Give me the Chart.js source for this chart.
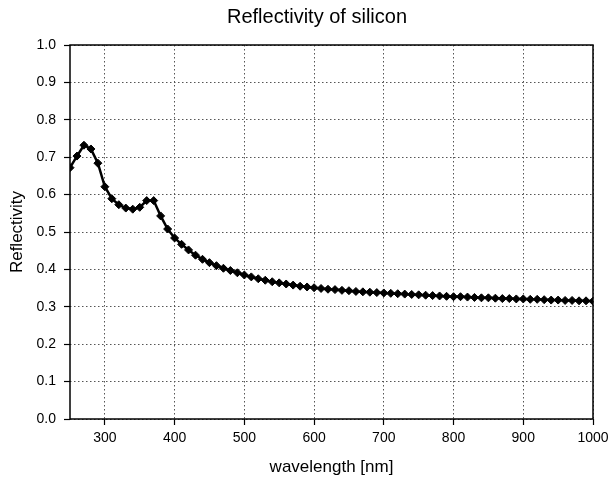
<!DOCTYPE html>
<html>
<head>
<meta charset="utf-8">
<script src="https://cdn.jsdelivr.net/npm/chart.js@4/dist/chart.umd.min.js"></script>
<style>
  html, body { margin: 0; padding: 0; background: #fff; }
  #wrap { width: 610px; height: 483px; }
</style>
</head>
<body>
<div id="wrap"><canvas id="c"></canvas></div>
<script>
// Wavelength samples (nm), one every 10 nm
const wavelengths = [
  250, 260, 270, 280, 290, 300, 310, 320, 330, 340,
  350, 360, 370, 380, 390, 400, 410, 420, 430, 440,
  450, 460, 470, 480, 490, 500, 510, 520, 530, 540,
  550, 560, 570, 580, 590, 600, 610, 620, 630, 640,
  650, 660, 670, 680, 690, 700, 710, 720, 730, 740,
  750, 760, 770, 780, 790, 800, 810, 820, 830, 840,
  850, 860, 870, 880, 890, 900, 910, 920, 930, 940,
  950, 960, 970, 980, 990, 1000
];

// Reflectivity
const reflectivity = [
  0.672, 0.703, 0.732, 0.722, 0.684, 0.621, 0.589, 0.573, 0.564, 0.561,
  0.566, 0.584, 0.584, 0.543, 0.508, 0.484, 0.467, 0.452, 0.438, 0.427,
  0.418, 0.410, 0.403, 0.397, 0.391, 0.385, 0.380, 0.375, 0.371, 0.367,
  0.364, 0.361, 0.358, 0.355, 0.353, 0.351, 0.349, 0.347, 0.346, 0.344,
  0.343, 0.341, 0.340, 0.339, 0.338, 0.337, 0.336, 0.335, 0.334, 0.333,
  0.332, 0.331, 0.330, 0.329, 0.328, 0.327, 0.327, 0.326, 0.325, 0.324,
  0.324, 0.323, 0.322, 0.322, 0.321, 0.321, 0.320, 0.320, 0.319, 0.318,
  0.318, 0.317, 0.317, 0.316, 0.316, 0.315
];

const xTicks = [300, 400, 500, 600, 700, 800, 900, 1000];
const yTicks = [0.0, 0.1, 0.2, 0.3, 0.4, 0.5, 0.6, 0.7, 0.8, 0.9, 1.0];

const chartTitle = 'Reflectivity of silicon';

const FONT = "'Liberation Sans', Arial, sans-serif";

// solid black box around the plot area
const frame = {
  id: 'frame',
  beforeDatasetsDraw(chart) {
    const { ctx, chartArea: a } = chart;
    ctx.save();
    ctx.strokeStyle = '#000';
    ctx.lineWidth = 1.5;
    ctx.setLineDash([]);
    ctx.strokeRect(a.left, a.top, a.right - a.left, a.bottom - a.top);
    ctx.restore();
  }
};

// title sits a bit right of the canvas centre in the original
const titleText = {
  id: 'titleText',
  afterDraw(chart) {
    const ctx = chart.ctx;
    ctx.save();
    ctx.fillStyle = '#000';
    ctx.font = '20px ' + FONT;
    ctx.textAlign = 'center';
    ctx.textBaseline = 'middle';
    ctx.fillText(chartTitle, 317, 17);
    ctx.restore();
  }
};

const gridOpts = {
  color: '#555',
  lineWidth: 1,
  drawTicks: true,
  tickLength: 6,
  tickColor: '#000',
  tickWidth: 1.2,
  tickBorderDash: []
};

new Chart(document.getElementById('c'), {
  type: 'line',
  data: {
    datasets: [{
      data: wavelengths.map((w, i) => ({ x: w, y: reflectivity[i] })),
      borderColor: '#000',
      backgroundColor: '#000',
      borderWidth: 2.5,
      pointStyle: 'rectRot',
      pointRadius: 4,
      pointBorderWidth: 1,
      tension: 0
    }]
  },
  options: {
    responsive: true,
    maintainAspectRatio: false,
    animation: false,
    layout: { padding: { left: 0, right: 17, top: 45, bottom: 0 } },
    plugins: {
      legend: { display: false },
      tooltip: { enabled: false },
      title: { display: false }
    },
    scales: {
      x: {
        type: 'linear',
        min: 250,
        max: 1000,
        afterBuildTicks: s => { s.ticks = xTicks.map(v => ({ value: v })); },
        // fixed height, and let the layout padding decide the right edge
        afterFit: s => { s.height = 64; s.paddingLeft = 0; s.paddingRight = 0; },
        ticks: {
          color: '#000',
          padding: 5,
          maxRotation: 0,
          font: { family: FONT, size: 14 },
          callback: v => String(v)
        },
        grid: gridOpts,
        border: { display: false, dash: [1.5, 2.5] },
        title: {
          display: true,
          text: 'wavelength [nm]',
          color: '#000',
          font: { family: FONT, size: 17 },
          padding: { top: 0, bottom: 5 }
        }
      },
      y: {
        min: 0,
        max: 1,
        afterBuildTicks: s => { s.ticks = yTicks.map(v => ({ value: v })); },
        afterFit: s => { s.width = 70; },
        ticks: {
          color: '#000',
          padding: 8,
          font: { family: FONT, size: 14 },
          callback: v => v.toFixed(1)
        },
        grid: gridOpts,
        border: { display: false, dash: [1.5, 2.5] },
        title: {
          display: true,
          text: 'Reflectivity',
          color: '#000',
          font: { family: FONT, size: 17 },
          padding: { top: 7, bottom: 0 }
        }
      }
    }
  },
  plugins: [frame, titleText]
});
</script>
</body>
</html>
